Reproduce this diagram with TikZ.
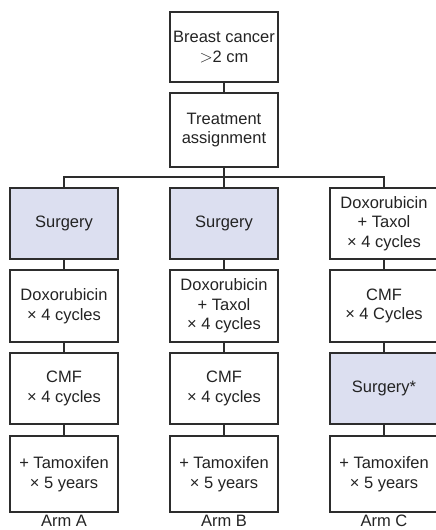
\documentclass[tikz,border=0pt]{standalone}
\usepackage{fontspec}
\setmainfont{Liberation Sans}
\definecolor{linegray}{RGB}{45,45,45}
\definecolor{textgray}{RGB}{35,35,35}
\definecolor{lav}{RGB}{220,223,240}
\begin{document}
\begin{tikzpicture}[x=1pt,y=1pt,
  box/.style={draw=linegray,line width=1.3pt,minimum width=108pt,inner sep=0pt,
    align=center,text=textgray,font=\fontsize{16.5}{19.5}\selectfont},
  shaded/.style={box,fill=lav},
  conn/.style={draw=linegray,line width=1.2pt},
  armlabel/.style={anchor=base,text=textgray,font=\fontsize{16.5}{19.5}\selectfont,inner sep=0pt}]
\useasboundingbox (0,0) rectangle (436,-530);
% top
\node[box,minimum height=70pt] (top) at (224,-47) {Breast cancer\\$>$2 cm};
\node[box,minimum height=74pt] (assign) at (224,-130) {Treatment\\assignment};
\coordinate (j) at (224,-177);
% Arm A
\node[shaded,minimum height=71pt] (a1) at (64,-223.5) {Surgery};
\node[box,minimum height=72pt] (a2) at (64,-306) {Doxorubicin\\× 4 cycles};
\node[box,minimum height=71pt] (a3) at (64,-388.5) {CMF\\× 4 cycles};
\node[box,minimum height=76pt] (a4) at (64,-474) {+ Tamoxifen\\× 5 years};
\node[armlabel] (la) at (64,-526.5) {Arm A};
% Arm B
\node[shaded,minimum height=71pt] (b1) at (224,-223.5) {Surgery};
\node[box,minimum height=72pt] (b2) at (224,-306) {Doxorubicin\\+ Taxol\\× 4 cycles};
\node[box,minimum height=71pt] (b3) at (224,-388.5) {CMF\\× 4 cycles};
\node[box,minimum height=76pt] (b4) at (224,-474) {+ Tamoxifen\\× 5 years};
\node[armlabel] (lb) at (224,-526.5) {Arm B};
% Arm C
\node[box,minimum height=71pt] (c1) at (384,-223.5) {Doxorubicin\\+ Taxol\\× 4 cycles};
\node[box,minimum height=72pt] (c2) at (384,-306) {CMF\\× 4 Cycles};
\node[shaded,minimum height=71pt] (c3) at (384,-388.5) {Surgery*};
\node[box,minimum height=76pt] (c4) at (384,-474) {+ Tamoxifen\\× 5 years};
\node[armlabel] (lc) at (384,-526.5) {Arm C};
% connectors
\draw[conn] (top) -- (assign);
\draw[conn] (assign) -- (j);
\draw[conn] (a1.north) |- (j) -| (c1.north);
\draw[conn] (j) -- (b1);
\foreach \c in {a,b,c}{
  \draw[conn] (\c1) -- (\c2);
  \draw[conn] (\c2) -- (\c3);
  \draw[conn] (\c3) -- (\c4);
}
\end{tikzpicture}
\end{document}
